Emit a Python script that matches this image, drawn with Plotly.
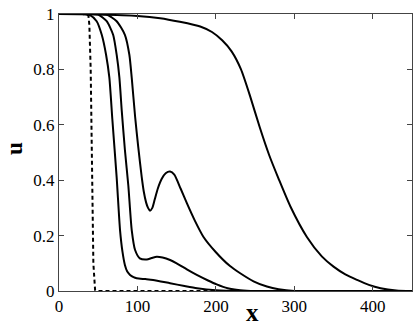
import plotly.graph_objects as go

# front profiles u(x)
x_dash = [0, 30, 37.5, 38.7, 40.4, 42, 43.8, 46, 48, 450]
u_dash = [1, 1, 0.995, 0.96, 0.8, 0.365, 0.1, 0.004, 0, 0]

x_c1 = [0, 30, 40, 48, 54.5, 60, 64.2, 68, 73.5, 77.8, 81, 84, 87, 90.6, 95,
        99, 110, 120, 141.6, 160, 176, 200, 230, 450]
u_c1 = [1, 1, 0.995, 0.974, 0.925, 0.853, 0.77, 0.62, 0.41, 0.22, 0.14, 0.094,
        0.07, 0.058, 0.05, 0.046, 0.043, 0.04, 0.028, 0.018, 0.01, 0.003, 0, 0]

x_c2 = [0, 40, 50, 60.8, 69, 73.5, 77, 80, 84, 88.4, 92.7, 97, 103, 112, 118,
        124.6, 132, 141.6, 150, 163, 175.6, 190, 201, 215, 231, 250, 450]
u_c2 = [1, 1, 0.998, 0.974, 0.925, 0.853, 0.77, 0.65, 0.51, 0.38, 0.22, 0.148,
        0.118, 0.114, 0.119, 0.124, 0.121, 0.112, 0.1, 0.078, 0.058, 0.038,
        0.024, 0.01, 0.003, 0, 0]

x_c3 = [0, 45, 60.8, 73.5, 84, 89.7, 92.7, 97, 101, 105.5, 108, 111, 113.5, 116,
        119, 122, 126, 131, 136, 141.6, 147, 155, 163, 173, 184, 200, 218, 231,
        248, 265, 280, 300, 450]
u_c3 = [1, 1, 0.998, 0.974, 0.925, 0.853, 0.77, 0.63, 0.52, 0.41, 0.36, 0.32,
        0.30, 0.29, 0.30, 0.33, 0.37, 0.405, 0.425, 0.431, 0.42, 0.37, 0.317,
        0.255, 0.196, 0.14, 0.09, 0.064, 0.035, 0.016, 0.006, 0, 0]

x_c4 = [0, 50, 100, 129, 154, 180, 195, 208, 220, 232, 244, 256, 268, 280, 295,
        316, 335, 350, 365, 380, 395, 410, 430, 450]
u_c4 = [1, 0.998, 0.993, 0.985, 0.972, 0.955, 0.935, 0.905, 0.865, 0.8, 0.7,
        0.59, 0.49, 0.405, 0.305, 0.195, 0.125, 0.088, 0.06, 0.04, 0.022, 0.01,
        0.002, 0]

x_ticks = [0, 100, 200, 300, 400]
u_ticks = [0, 0.2, 0.4, 0.6, 0.8, 1]
u_tick_text = ["0", "0.2", "0.4", "0.6", "0.8", "1"]

serif = "Liberation Serif"

fig = go.Figure()
fig.add_trace(go.Scatter(x=x_dash, y=u_dash, mode="lines",
                         line=dict(color="black", width=2, dash="4px,3px")))
for xs, us in [(x_c1, u_c1), (x_c2, u_c2), (x_c3, u_c3), (x_c4, u_c4)]:
    fig.add_trace(go.Scatter(x=xs, y=us, mode="lines",
                             line=dict(color="black", width=2,
                                       shape="spline", smoothing=0.6)))

axis_style = dict(showline=True, linecolor="#444", linewidth=1, mirror="ticks",
                  ticks="inside", ticklen=5, tickcolor="#444", showgrid=False,
                  zeroline=False, automargin=False,
                  tickfont=dict(family=serif, size=17, color="black"))
fig.update_xaxes(range=[0, 450], tickvals=x_ticks, **axis_style)
fig.update_yaxes(range=[0, 1], tickvals=u_ticks, ticktext=u_tick_text,
                 **axis_style)

fig.update_layout(width=415, height=329, showlegend=False,
                  font=dict(family=serif, color="black"),
                  plot_bgcolor="white", paper_bgcolor="white",
                  margin=dict(l=59, r=3, t=14, b=38),
                  annotations=[
                      dict(text="<b>x</b>", x=0.547, y=-0.076, xref="paper",
                           yref="paper", showarrow=False,
                           xanchor="center", yanchor="middle",
                           font=dict(family=serif, size=25, color="black")),
                      dict(text="<b>u</b>", x=-0.128, y=0.516, xref="paper",
                           yref="paper", showarrow=False, textangle=-90,
                           xanchor="center", yanchor="middle",
                           font=dict(family=serif, size=23, color="black")),
                  ])

# drop the browser's default body margin so the figure sits at the corner
fig.write_html("out.html", config={"displayModeBar": False},
               post_script="document.body.style.margin='0';")
